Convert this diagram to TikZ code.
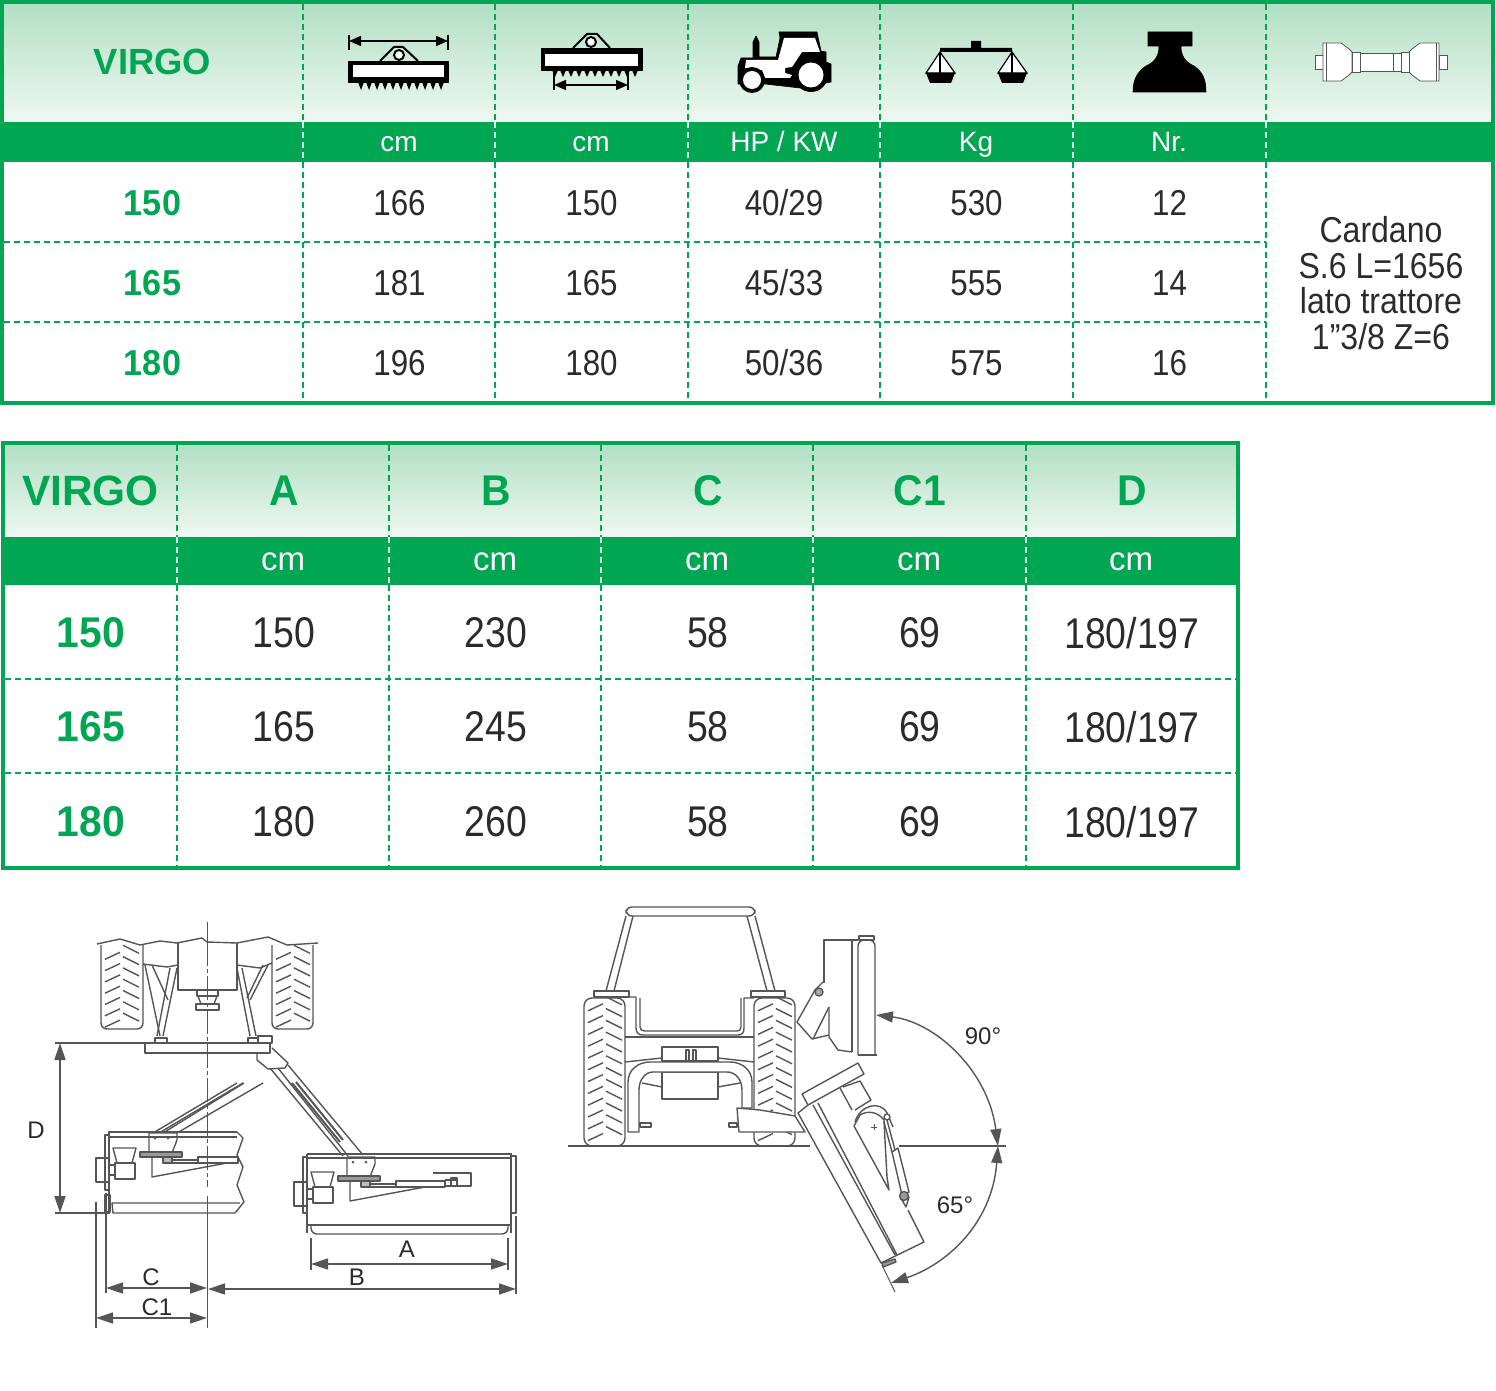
\documentclass[tikz,border=0pt]{standalone}
\usepackage{fontspec}
\setmainfont{Liberation Sans}
\newfontfamily\narrowfont[FakeStretch=0.87]{Liberation Sans}
\newfontfamily\cardanofont[FakeStretch=0.89]{Liberation Sans}
\newfontfamily\greenfont[FakeStretch=0.95]{Liberation Sans}
\usetikzlibrary{arrows.meta}
\definecolor{virgogreen}{HTML}{00A651}
\definecolor{headtop}{HTML}{B3DFC5}
\definecolor{headlow}{HTML}{EEF8F1}
\definecolor{inkgray}{HTML}{555555}
\definecolor{textgray}{HTML}{2B2B2B}
% tread of one tyre: left edge, start height, rows, row step
\newcommand{\tyretread}[4]{%
  \foreach \k in {1,...,#3}{
    \draw[part] (#1+4,#2+#4*\k+7) -- (#1+19,#2+#4*\k);
    \draw[part] (#1+22,#2+#4*\k-7) -- (#1+38,#2+#4*\k+1);
  }}
% gearbox, bracket and cylinder of the mower: #1 is the free end of the cylinder
\newcommand{\mowerhead}[1]{%
  \draw[part] (152,1157) -- (152,1177) -- (227,1163);
  \draw[part] (113,1148) -- (136,1148) -- (132,1163) -- (117,1163) -- cycle;
  \draw[part] (115,1163) rectangle (135,1179);
  \draw[part] (96,1158) rectangle (109,1182);
  \draw[part] (109,1165) rectangle (115,1175);
  \draw[part,fill=white] (149,1133) -- (177,1133) -- (177,1140) -- (172,1153) -- (149,1153) -- cycle;
  \draw[part,fill=inkgray!60] (140,1152) rectangle (182,1157);
  \draw[part,fill=inkgray!40] (163,1157) rectangle (172,1163);
  \draw[part] (172,1160) rectangle (198,1163);
  \draw[part,fill=white] (198,1157) rectangle (#1,1163);
  \fill[inkgray] (155,1138) circle (1.5) (168,1138) circle (1.5);
}
\begin{document}
\begin{tikzpicture}[x=0.5pt,y=-0.5pt,
    grid/.style={virgogreen,line width=1pt,dash pattern=on 3pt off 2pt},
    bandgrid/.style={white!85!virgogreen,line width=.8pt,dash pattern=on 3pt off 2pt},
    frame/.style={virgogreen,line width=2pt},
    band/.style={fill=virgogreen},
    head/.style={top color=headtop,bottom color=headlow},
    cell/.style={inner sep=0pt,text=textgray,font=\narrowfont\fontsize{18}{20}\selectfont},
    bigcell/.style={inner sep=0pt,text=textgray,font=\narrowfont\fontsize{21.5}{24}\selectfont},
    model/.style={inner sep=0pt,text=virgogreen,font=\greenfont\bfseries\fontsize{18}{20}\selectfont},
    bigmodel/.style={inner sep=0pt,text=virgogreen,font=\greenfont\bfseries\fontsize{21.5}{24}\selectfont},
    unit/.style={inner sep=0pt,anchor=base,text=white,font=\fontsize{14}{16}\selectfont},
    bigunit/.style={inner sep=0pt,anchor=base,text=white,font=\fontsize{16.5}{18}\selectfont},
    part/.style={draw=inkgray,line width=.7pt,line join=round},
    thin part/.style={draw=inkgray,line width=.5pt,line join=round},
    measure/.style={draw=inkgray,line width=.7pt},
    >={Stealth[length=8.5pt,width=5.5pt,inset=0pt]},
    tag/.style={inner sep=0pt,text=textgray,font=\fontsize{12}{14}\selectfont},
    icon/.style={fill=black,draw=black,line width=.3pt,line join=round},
    shaft/.style={fill=white,draw=inkgray,line width=.4pt}]
\useasboundingbox (0,0) rectangle (1496,1391);

% upper table
\fill[head] (4,4) rectangle (1491,122);
\fill[band] (4,122) rectangle (1491,162);
\foreach \xa in {303,495,688,880,1073,1266}{
  \draw[grid] (\xa,4) -- (\xa,122);
  \draw[bandgrid] (\xa,122) -- (\xa,162);
  \draw[grid] (\xa,162) -- (\xa,401);
}
\foreach \ya in {242,322}
  \draw[grid] (4,\ya) -- (1266,\ya);
\draw[frame] (2,2) rectangle (1493,403);

\node[model,font=\bfseries\fontsize{18.2}{20}\selectfont] (topname) at (152.5,62) {VIRGO};
\node[unit] (u1) at (399,152) {cm};
\node[unit] (u2) at (591,152) {cm};
\node[unit] (u3) at (784,152) {HP / KW};
\node[unit] (u4) at (976,152) {Kg};
\node[unit] (u5) at (1169,152) {Nr.};
\foreach \ya/\m/\w/\c/\p/\k/\n in {203/150/166/150/40\slash 29/530/12,283/165/181/165/45\slash 33/555/14,363/180/196/180/50\slash 36/575/16}{
  \node[model] (m\m) at (152.5,\ya) {\m};
  \node[cell] (w\m) at (399.5,\ya) {\w};
  \node[cell] (c\m) at (591.5,\ya) {\c};
  \node[cell] (p\m) at (784,\ya) {\p};
  \node[cell] (k\m) at (976.5,\ya) {\k};
  \node[cell] (n\m) at (1169.5,\ya) {\n};
}
\node[cell,align=center,font=\cardanofont\fontsize{18}{17.75}\selectfont] (cardano) at (1381,283) {Cardano\\S.6 L=1656\\lato trattore\\1”3/8 Z=6};

% icon width over all
\fill[icon] (348,61) rectangle (448,82);
\fill[white] (353,65) rectangle (444,77);
\draw[black,line width=1pt,line join=round] (380,61) -- (394,47) -- (403,47) -- (418,61);
\draw[black,fill=white,line width=1pt] (399,55) circle (5);
\foreach \xa in {361,369,...,441}
  \fill[black] (\xa-3,82) -- (\xa+3,82) -- (\xa,90) -- cycle;
\coordinate (wl) at (349,41);
\coordinate (wr) at (448,41);
\draw[black,line width=.7pt,>={Stealth[length=6pt,width=5pt,inset=0pt]},<->] (wl) -- (wr);
\draw[black,line width=.7pt] (349,35) -- (349,50) (448,35) -- (448,50);

% icon working width
\fill[icon] (541,48) rectangle (642,70);
\fill[white] (545,54) rectangle (638,66);
\draw[black,line width=1pt,line join=round] (573,48) -- (587,34) -- (597,34) -- (610,48);
\draw[black,fill=white,line width=1pt] (591,42) circle (5);
\foreach \xa in {555,563,...,635}
  \fill[black] (\xa-3,70) -- (\xa+3,70) -- (\xa,77) -- cycle;
\coordinate (wa) at (554,85);
\coordinate (wb) at (628,85);
\draw[black,line width=.7pt,>={Stealth[length=6pt,width=5pt,inset=0pt]},<->] (wa) -- (wb);
\draw[black,line width=.7pt] (554,72) -- (554,90) (628,72) -- (628,90);

% icon tractor
\fill[icon] (738,84) -- (738,66) -- (741,58) -- (753,58) -- (753,42) -- (756,36) -- (759,42) -- (759,57) -- (776,57)
  -- (780,38) -- (779,32) -- (817,32) -- (821,51) -- (826,52) -- (826,62) -- (831,64) -- (831,82) -- (800,88) -- (765,84) -- cycle;
\fill[white] (746,60) -- (778,60) -- (784,38) -- (815,38) -- (820,52) -- (802,52) -- (792,67) -- (785,68) -- (785,73)
  -- (792,75) -- (790,78) -- (765,78) -- (762,70) -- (745,68) -- cycle;
\fill[black] (811,75) circle (17) (752,80) circle (13);
\fill[white] (811,75) circle (12.5) (752,80) circle (9);

% icon scales
\fill[black] (940,48) rectangle (1012,52) (971,41) rectangle (981,48);
\foreach \xa in {940,1012}{
  \draw[black,fill=white,line width=.6pt] (\xa,52) -- (\xa-14,73) -- (\xa+15,73) -- cycle;
  \draw[black,line width=.6pt] (\xa,52) -- (\xa,73);
  \fill[black] (\xa-14,73) -- (\xa-10,83) -- (\xa+11,83) -- (\xa+15,73) -- cycle;
}

% icon weight
\fill[icon] (1148,32) -- (1192,32) -- (1192,46) -- (1181,46) .. controls (1181,56) and (1185,62) .. (1194,66)
  .. controls (1203,72) and (1206,80) .. (1206,92) -- (1133,92) .. controls (1133,80) and (1137,72) .. (1146,66)
  .. controls (1155,62) and (1159,56) .. (1159,46) -- (1148,46) -- cycle;

% icon shaft
\draw[shaft] (1315,55) rectangle (1323,69);
\draw[shaft] (1439,55) rectangle (1447,69);
\draw[shaft] (1323,43) -- (1341,43) -- (1349,49) -- (1352,52) -- (1352,72) -- (1349,75) -- (1341,81) -- (1323,81) -- cycle;
\draw[shaft] (1439,43) -- (1420,43) -- (1412,49) -- (1409,52) -- (1409,72) -- (1412,75) -- (1420,81) -- (1439,81) -- cycle;
\draw[shaft] (1326,43) -- (1326,81) (1436,43) -- (1436,81);
\draw[shaft] (1352,52) rectangle (1360,72);
\draw[shaft] (1401,52) rectangle (1409,72);
\draw[shaft] (1360,53) rectangle (1393,71);
\draw[shaft] (1393,53) rectangle (1401,71);

% lower table
\fill[head] (5,445) rectangle (1236,537);
\fill[band] (5,537) rectangle (1236,585);
\foreach \xa in {177,389,601,813,1026}{
  \draw[grid] (\xa,445) -- (\xa,537);
  \draw[bandgrid] (\xa,537) -- (\xa,585);
  \draw[grid] (\xa,585) -- (\xa,866);
}
\foreach \ya in {679,773}
  \draw[grid] (5,\ya) -- (1236,\ya);
\draw[frame] (3,443) rectangle (1238,868);

\node[bigmodel,font=\bfseries\fontsize{21.2}{24}\selectfont] (lowname) at (90.5,491) {VIRGO};
\foreach \xa/\h in {284/A,496/B,708/C,920/C1,1132/D}{
  \node[bigmodel] (h\h) at (\xa,491) {\h};
}
\foreach \xa/\h in {283/A,495/B,707/C,919/C1,1131/D}{
  \node[bigunit] (v\h) at (\xa,571) {cm};
}
\foreach \ya/\m/\aa/\bb/\cc/\dd/\ee in {633/150/150/230/58/69/180\slash 197,727/165/165/245/58/69/180\slash 197,822/180/180/260/58/69/180\slash 197}{
  \node[bigmodel] (lm\m) at (91,\ya) {\m};
  \node[bigcell] (la\m) at (284,\ya) {\aa};
  \node[bigcell] (lb\m) at (496,\ya) {\bb};
  \node[bigcell] (lc\m) at (708,\ya) {\cc};
  \node[bigcell] (ld\m) at (920,\ya) {\dd};
  \node[bigcell] (le\m) at (1132,\ya) {\ee};
}

% plan view: tractor
\draw[part] (97,944) -- (120,939) -- (140,945) -- (160,941) -- (177,943) -- (202,938) -- (207,942) -- (237,943) -- (268,937) -- (287,945) -- (318,943);
\draw[part,rounded corners=3pt] (101,945) -- (101,1029) -- (143,1029) -- (143,945);
\draw[part,rounded corners=3pt] (272,945) -- (272,1029) -- (313,1029) -- (313,945);
\tyretread{101}{941}{7}{11.3}
\tyretread{272}{941}{7}{11.3}
\draw[part] (178,943) -- (178,990) -- (237,990) -- (237,943);
\draw[part] (143,964) -- (167,967) -- (178,965);
\draw[part] (237,965) -- (260,968) -- (272,963);
\draw[part] (145,965) -- (160,1036) (152,965) -- (168,1000);
\draw[part] (177,968) -- (163,1036) (170,968) -- (157,1036);
\draw[part] (237,968) -- (250,1036) (242,968) -- (256,1036);
\draw[part] (268,965) -- (250,1000) (263,965) -- (247,998);
\draw[part] (197,990) rectangle (218,996);
\draw[part] (198,996) -- (201,1004) -- (214,1004) -- (217,996);
\draw[part] (196,1004) rectangle (219,1010);
\draw[part] (155,1038) rectangle (167,1043);
\draw[part,fill=white] (248,1038) rectangle (258,1043);
\draw[part] (258,1036) rectangle (272,1043);
\draw[part] (145,1043) rectangle (270,1053);
% plan view: boom
\draw[part] (257,1053) -- (257,1060) -- (268,1069) -- (285,1068) -- (288,1063) -- (272,1048);
\draw[part] (270,1068) -- (343,1156);
\draw[part] (278,1068) -- (348,1156);
\draw[part] (288,1065) -- (363,1155);
\draw[part,line width=1pt] (292,1083) -- (340,1142);
\draw[part,line width=1pt] (296,1082) -- (343,1140);
% plan view: mower, working position
\begin{scope}[shift={(198,24)}]
  \mowerhead{247}
\end{scope}
\draw[part] (307,1154) -- (512,1154) (307,1158) -- (512,1158);
\draw[part] (307,1154) -- (307,1233) (511,1154) -- (511,1233);
\draw[part] (303,1157) rectangle (307,1213);
\draw[part] (511,1156) rectangle (516,1213);
\draw[part] (307,1225) -- (511,1225);
\draw[part,rounded corners=3pt] (311,1225) -- (311,1234) -- (508,1234) -- (508,1225);
\draw[part] (433,1173) -- (471,1173) -- (471,1186) -- (445,1186);
\draw[part] (445,1180) -- (457,1180) (451,1178) rectangle (457,1186);
% plan view: mower, raised
\draw[part] (153,1133) -- (237,1083) (159,1133) -- (243,1083);
\draw[part] (163,1133) -- (244,1083) (177,1133) -- (263,1083);
\mowerhead{238}
\draw[part] (237,1132) -- (109,1132) -- (109,1213) (237,1137) -- (109,1137);
\draw[part] (105,1135) rectangle (109,1190) (105,1195) rectangle (110,1212);
\draw[part] (237,1132) -- (243,1138) -- (237,1155) -- (243,1167) -- (237,1185) -- (244,1202) -- (235,1213) -- (113,1213) -- (112,1203) -- (240,1203);

% plan view: centre line
\draw[thin part] (207,922) -- (207,942);
\draw[thin part,dash pattern=on 12pt off 1.5pt on 2pt off 1.5pt] (207,942) -- (207,1187);
\draw[thin part] (207,1196) -- (207,1328);

% plan view: dimensions
\coordinate (dtop) at (60,1043);
\coordinate (dlow) at (60,1213);
\coordinate (cleft) at (106,1288);
\coordinate (cright) at (207,1288);
\coordinate (cileft) at (96,1318);
\coordinate (ciright) at (207,1318);
\coordinate (bleft) at (208,1289);
\coordinate (bright) at (516,1289);
\coordinate (aleft) at (311,1264);
\coordinate (aright) at (508,1264);
\draw[measure] (55,1043) -- (145,1043) (55,1213) -- (110,1213);
\draw[measure] (106,1193) -- (106,1293) (96,1202) -- (96,1328);
\draw[measure] (311,1238) -- (311,1270) (508,1238) -- (508,1270) (516,1216) -- (516,1294);
\draw[measure,<->] (dtop) -- (dlow);
\draw[measure,<->] (cleft) -- (cright);
\draw[measure,<->] (cileft) -- (ciright);
\draw[measure,<->] (bleft) -- (bright);
\draw[measure,<->] (aleft) -- (aright);
\node[tag] (tagD) at (36,1130) {D};
\node[tag] (tagC) at (151,1277) {C};
\node[tag] (tagCi) at (157,1307) {C1};
\node[tag] (tagA) at (407,1249) {A};
\node[tag] (tagB) at (357,1277) {B};

% rear view: tractor
\draw[part,rounded corners=3pt] (626,916) -- (626,907) -- (755,907) -- (755,916) -- cycle;
\draw[part] (626,916) -- (606,991) (633,916) -- (614,991);
\draw[part] (747,916) -- (767,991) (755,916) -- (775,991);
\draw[part] (594,991) rectangle (629,997);
\draw[part] (751,991) rectangle (785,997);
\draw[part,rounded corners=4pt] (584,998) rectangle (625,1146);
\draw[part,rounded corners=4pt] (754,998) rectangle (795,1146);
\tyretread{584}{992}{12}{11.8}
\tyretread{754}{992}{12}{11.8}
\draw[part] (625,997) -- (636,997) -- (636,1028) .. controls (636,1033) and (639,1035) .. (643,1035) -- (738,1035)
  .. controls (742,1035) and (744,1033) .. (744,1028) -- (744,998) -- (754,998);
\draw[part] (640,998) -- (640,1027) .. controls (640,1030) and (642,1031) .. (645,1031) -- (737,1031)
  .. controls (739,1031) and (741,1030) .. (741,1027) -- (741,998);
\draw[part] (625,1037) -- (754,1037);
\draw[part] (662,1047) rectangle (718,1061);
\draw[part] (686,1050) rectangle (689,1061) (693,1050) rectangle (696,1061);
\draw[part] (625,1062) -- (662,1058) (718,1058) -- (754,1062);
\draw[part] (662,1072) rectangle (718,1099);
\draw[part] (642,1083) -- (662,1087) (718,1087) -- (740,1083);
\draw[part,fill=white] (628,1132) -- (628,1082) .. controls (628,1070) and (638,1062) .. (650,1062) -- (730,1062)
  .. controls (742,1062) and (752,1070) .. (752,1082) -- (752,1108) -- (742,1108) -- (742,1090)
  .. controls (742,1080) and (736,1072) .. (727,1072) -- (653,1072) .. controls (645,1072) and (639,1080) .. (639,1090) -- (639,1132) -- cycle;
\draw[part] (640,1123) rectangle (651,1127);
\draw[part] (729,1123) rectangle (737,1127);
\draw[part,fill=white] (737,1108) -- (760,1110) -- (795,1116) -- (805,1132) -- (739,1132) -- cycle;
\draw[part] (568,1146) -- (810,1146) (899,1146) -- (1006,1146);

% rear view: mower raised
\draw[part] (859,936) rectangle (874,940);
\draw[part] (852,940) -- (824,940) -- (824,983);
\draw[part] (852,940) -- (858,940) (852,940) -- (852,1052);
\draw[part,rounded corners=3pt] (858,1055) -- (858,940) -- (875,940) -- (875,1055);
\draw[part] (858,1055) -- (877,1055);
\draw[part] (829,1007) -- (829,1037) -- (838,1050) -- (852,1052);
\draw[part] (823,982) -- (815,990) -- (797,1022) -- (812,1039) -- (829,1035);
\draw[part] (829,1007) -- (813,1039);
\draw[part,fill=inkgray!50] (819,992) circle (4);

% rear view: mower lowered
\draw[part] (802,1094) -- (858,1063) -- (864,1074) -- (808,1105) -- cycle;
\draw[part] (808,1105) -- (798,1113) -- (881,1263) -- (924,1242) -- (908,1210);
\draw[part] (813,1105) -- (895,1255) (818,1103) -- (897,1255);
\draw[part] (843,1087) -- (860,1081) -- (871,1100) -- (855,1110);
\draw[part] (840,1088) -- (852,1110);
\draw[part] (854,1126) -- (889,1190) -- (887,1177) -- (885,1140) -- (884,1120);
\draw[part] (854,1126) -- (860,1115) .. controls (868,1110) and (878,1112) .. (884,1120);
\draw[part] (855,1122) .. controls (860,1105) and (880,1100) .. (887,1113) -- (893,1127);
\draw[thin part] (871,1127) -- (877,1127) (874,1124) -- (874,1130);
\draw[part,fill=white] (887,1117) circle (3);
\draw[part] (887,1120) -- (895,1150) (884,1122) -- (892,1152);
\draw[part,fill=white] (892,1152) -- (898,1148) -- (909,1192) -- (902,1195) -- cycle;
\draw[part,fill=inkgray!60] (904,1196) circle (4.5);
\draw[part] (902,1200) -- (906,1207) -- (909,1197);
\draw[part,fill=inkgray!60] (882,1263) -- (895,1259) -- (896,1262) -- (883,1267) -- cycle;
\draw[thin part] (882,1265) -- (895,1292);

% rear view: angles
\coordinate (angmid) at (998,1146);
\coordinate (angup) at (876,1015);
\coordinate (anglow) at (891,1283);
\draw[measure,<->] (angup) .. controls (935,1022) and (988,1070) .. (angmid);
\draw[measure,<->] (angmid) .. controls (992,1225) and (945,1265) .. (anglow);
\node[tag] (tagNinety) at (983,1036) {90°};
\node[tag] (tagSixty) at (955,1205) {65°};
\end{tikzpicture}
\end{document}
